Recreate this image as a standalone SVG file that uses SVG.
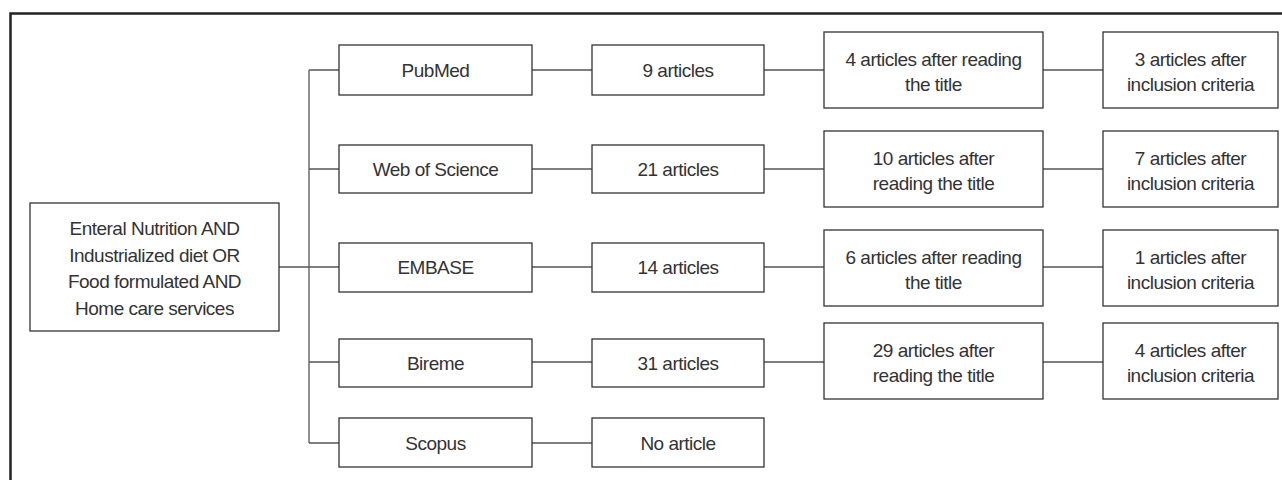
<svg xmlns="http://www.w3.org/2000/svg" width="1282" height="480" viewBox="0 0 1282 480">
<style>
.box{fill:#fff;stroke:#333;stroke-width:1.3}
.t{font-family:"Liberation Sans",Arial,sans-serif;font-size:19px;letter-spacing:-0.5px;fill:#333;text-anchor:middle}
.c{stroke:#555;stroke-width:1.3;fill:none}
</style>
<rect width="1282" height="480" fill="#fff"/>
<path d="M10.5 480 V13.5 H1282" fill="none" stroke="#222" stroke-width="2.5"/>
<g id="connectors">
<path class="c" d="M279 267 H309 M309 70 V443 M309 70 H339 M309 169 H339 M309 267 H339 M309 362 H339 M309 443 H339"/>
<path class="c" d="M532 70 H592 M532 169 H592 M532 267 H592 M532 362 H592 M532 443 H592"/>
<path class="c" d="M764 70 H824 M764 169 H824 M764 267 H824 M764 362 H824"/>
<path class="c" d="M1043 70 H1103 M1043 169 H1103 M1043 267 H1103 M1043 362 H1103"/>
</g>
<g id="source"><rect class="box" x="30" y="203" width="249" height="128"/>
<text class="t" x="154.5" y="235">Enteral Nutrition AND</text>
<text class="t" x="154.5" y="261.7">Industrialized diet OR</text>
<text class="t" x="154.5" y="288.4">Food formulated AND</text>
<text class="t" x="154.5" y="315">Home care services</text></g>
<g id="pubmed"><rect class="box" x="339" y="45" width="193" height="50"/><text class="t" x="435.5" y="77">PubMed</text></g>
<g id="wos"><rect class="box" x="339" y="145" width="193" height="48"/><text class="t" x="435.5" y="176">Web of Science</text></g>
<g id="embase"><rect class="box" x="339" y="243" width="193" height="49"/><text class="t" x="435.5" y="274">EMBASE</text></g>
<g id="bireme"><rect class="box" x="339" y="339" width="193" height="48"/><text class="t" x="435.5" y="370">Bireme</text></g>
<g id="scopus"><rect class="box" x="339" y="418" width="193" height="49"/><text class="t" x="435.5" y="450">Scopus</text></g>
<g id="pubmed-n"><rect class="box" x="592" y="45" width="172" height="50"/><text class="t" x="678" y="77">9 articles</text></g>
<g id="wos-n"><rect class="box" x="592" y="145" width="172" height="48"/><text class="t" x="678" y="176">21 articles</text></g>
<g id="embase-n"><rect class="box" x="592" y="243" width="172" height="49"/><text class="t" x="678" y="274">14 articles</text></g>
<g id="bireme-n"><rect class="box" x="592" y="339" width="172" height="48"/><text class="t" x="678" y="370">31 articles</text></g>
<g id="scopus-n"><rect class="box" x="592" y="418" width="172" height="49"/><text class="t" x="678" y="450">No article</text></g>
<g id="pubmed-title"><rect class="box" x="824" y="32" width="219" height="76"/><text class="t" x="933.5" y="65.5">4 articles after reading</text><text class="t" x="933.5" y="91">the title</text></g>
<g id="wos-title"><rect class="box" x="824" y="131" width="219" height="76"/><text class="t" x="933.5" y="164.5">10 articles after</text><text class="t" x="933.5" y="190">reading the title</text></g>
<g id="embase-title"><rect class="box" x="824" y="230" width="219" height="76"/><text class="t" x="933.5" y="263.5">6 articles after reading</text><text class="t" x="933.5" y="289">the title</text></g>
<g id="bireme-title"><rect class="box" x="824" y="323" width="219" height="76"/><text class="t" x="933.5" y="356.5">29 articles after</text><text class="t" x="933.5" y="382">reading the title</text></g>
<g id="pubmed-inc"><rect class="box" x="1103" y="32" width="175" height="76"/><text class="t" x="1190.5" y="65.5">3 articles after</text><text class="t" x="1190.5" y="91">inclusion criteria</text></g>
<g id="wos-inc"><rect class="box" x="1103" y="131" width="175" height="76"/><text class="t" x="1190.5" y="164.5">7 articles after</text><text class="t" x="1190.5" y="190">inclusion criteria</text></g>
<g id="embase-inc"><rect class="box" x="1103" y="230" width="175" height="76"/><text class="t" x="1190.5" y="263.5">1 articles after</text><text class="t" x="1190.5" y="289">inclusion criteria</text></g>
<g id="bireme-inc"><rect class="box" x="1103" y="323" width="175" height="76"/><text class="t" x="1190.5" y="356.5">4 articles after</text><text class="t" x="1190.5" y="382">inclusion criteria</text></g>
</svg>
